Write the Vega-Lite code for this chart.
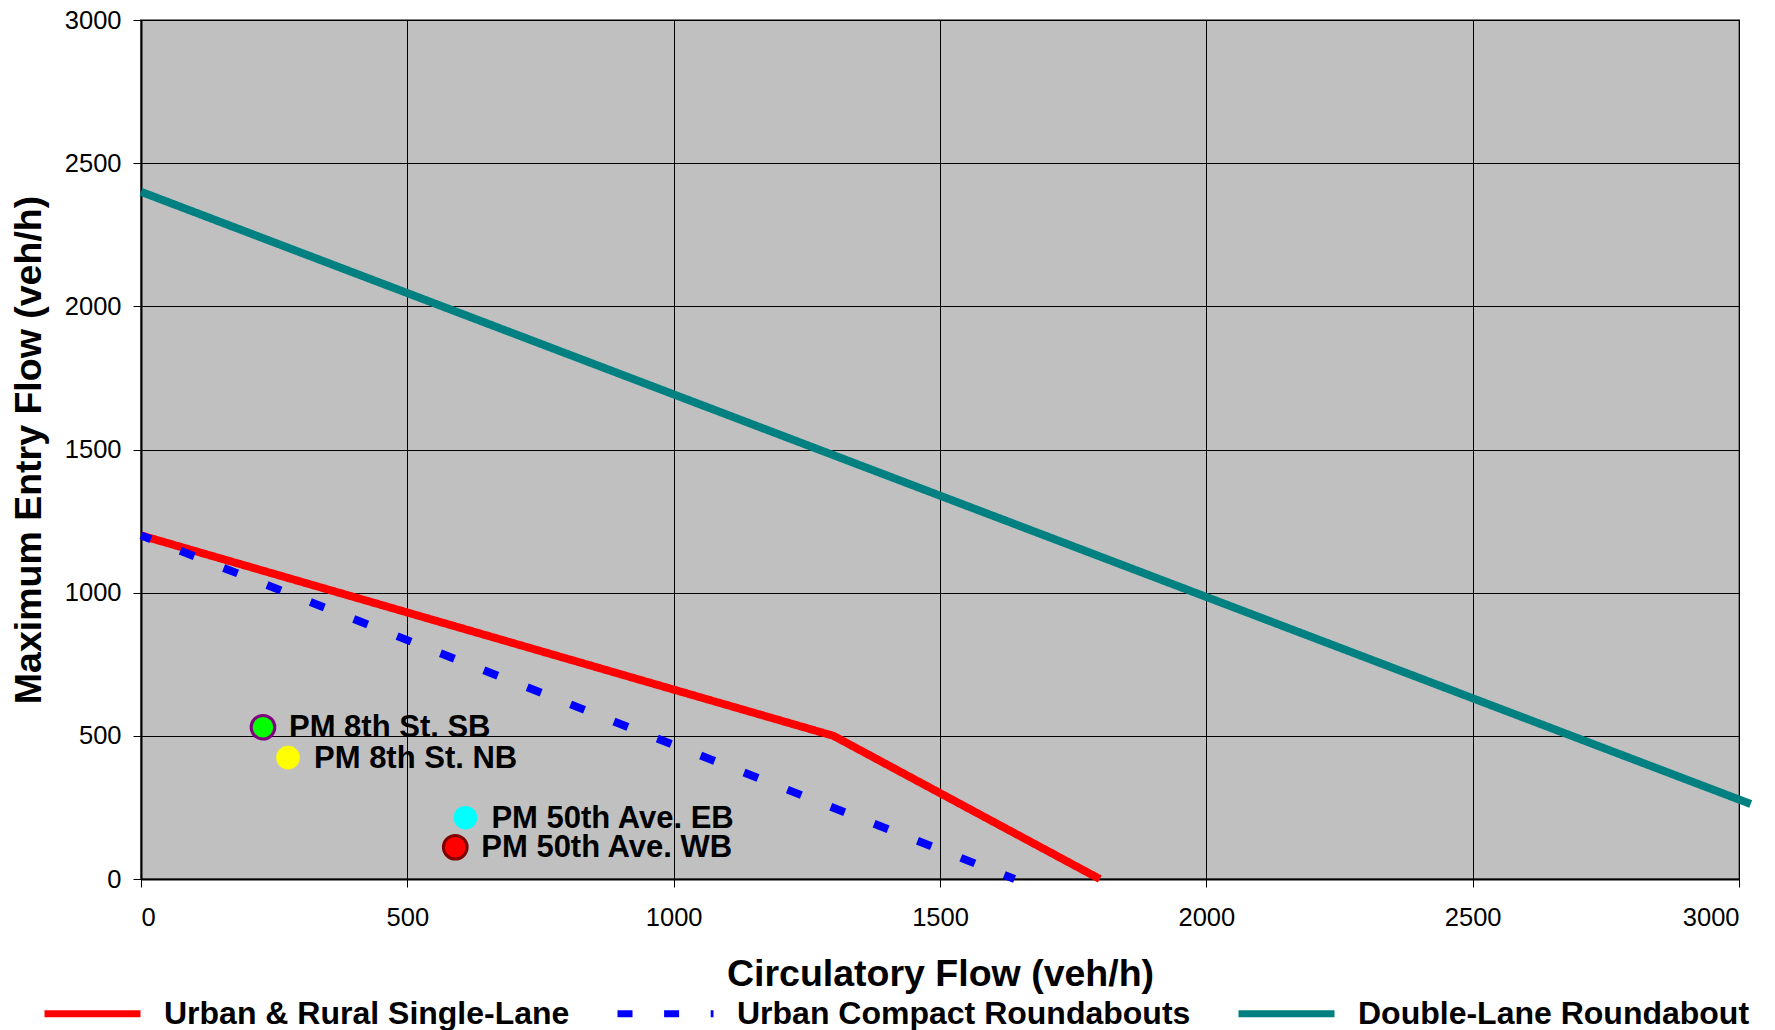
{
  "$schema": "https://vega.github.io/schema/vega-lite/v6.json",
  "width": 1598,
  "height": 859,
  "autosize": {"type": "none"},
  "padding": {"left": 141, "top": 20, "right": 36, "bottom": 151},
  "background": "white",
  "config": {
    "font": "Liberation Sans",
    "view": {"fill": "#C0C0C0", "stroke": "#808080", "strokeWidth": 2},
    "axis": {
      "grid": true,
      "gridColor": "#000000",
      "gridWidth": 1,
      "gridOpacity": 1,
      "domainColor": "#000000",
      "domainWidth": 2,
      "tickColor": "#000000",
      "tickSize": 8,
      "tickWidth": 1,
      "labelFont": "Liberation Sans",
      "labelFontSize": 25.5,
      "labelColor": "#000000",
      "titleFont": "Liberation Sans",
      "titleFontSize": 37.5,
      "titleFontWeight": "bold",
      "titleColor": "#000000"
    },
    "legend": {
      "labelFont": "Liberation Sans",
      "labelFontSize": 32,
      "labelFontWeight": "bold",
      "labelColor": "#000000",
      "labelLimit": 1000
    }
  },
  "datasets": {
    "curves": [
      {"series": "Urban & Rural Single-Lane", "x": 0, "y": 1200, "o": 1},
      {"series": "Urban & Rural Single-Lane", "x": 1300, "y": 500, "o": 2},
      {"series": "Urban & Rural Single-Lane", "x": 1800, "y": 0, "o": 3},
      {"series": "Urban Compact Roundabouts", "x": 0, "y": 1200, "o": 1},
      {"series": "Urban Compact Roundabouts", "x": 1640, "y": 0, "o": 2},
      {"series": "Double-Lane Roundabout", "x": 0, "y": 2400, "o": 1},
      {"series": "Double-Lane Roundabout", "x": 3022, "y": 262, "o": 2}
    ],
    "sites": [
      {"site": "PM 8th St. SB", "x": 229, "y": 530},
      {"site": "PM 8th St. NB", "x": 276, "y": 424},
      {"site": "PM 50th Ave. EB", "x": 609, "y": 214},
      {"site": "PM 50th Ave. WB", "x": 590, "y": 111}
    ]
  },
  "layer": [
    {
      "data": {"name": "curves"},
      "mark": {"type": "line", "strokeWidth": 8, "clip": false, "strokeCap": "butt", "strokeDashOffset": 4.4},
      "encoding": {
        "x": {
          "field": "x", "type": "quantitative",
          "scale": {"domain": [0, 3000], "nice": false},
          "axis": {"values": [0, 500, 1000, 1500, 2000, 2500, 3000], "title": "Circulatory Flow (veh/h)", "labelPadding": 18, "titlePadding": 25, "format": "d"}
        },
        "y": {
          "field": "y", "type": "quantitative",
          "scale": {"domain": [0, 3000], "nice": false},
          "axis": {"values": [0, 500, 1000, 1500, 2000, 2500, 3000], "title": "Maximum Entry Flow (veh/h)", "labelPadding": 12, "titlePadding": 16, "format": "d"}
        },
        "order": {"field": "o", "type": "quantitative"},
        "stroke": {
          "field": "series", "type": "nominal",
          "scale": {"domain": ["Urban & Rural Single-Lane", "Urban Compact Roundabouts", "Double-Lane Roundabout"], "range": ["#FF0000", "#0000FF", "#008080"]},
          "legend": {"title": null, "orient": "none", "legendX": -100, "legendY": 942, "direction": "horizontal", "columns": 3, "symbolType": "stroke", "symbolSize": 9216, "symbolStrokeWidth": 7, "labelOffset": 20, "columnPadding": 33}
        },
        "strokeDash": {
          "field": "series", "type": "nominal",
          "scale": {"domain": ["Urban & Rural Single-Lane", "Urban Compact Roundabouts", "Double-Lane Roundabout"], "range": [[1, 0], [15, 31.6], [1, 0]]},
          "legend": {"title": null, "orient": "none", "legendX": -100, "legendY": 942, "direction": "horizontal", "columns": 3, "symbolType": "stroke", "symbolSize": 9216, "symbolStrokeWidth": 7, "labelOffset": 20, "columnPadding": 33}
        }
      }
    },
    {
      "data": {"name": "sites"},
      "mark": {"type": "point", "filled": true, "size": 560, "strokeWidth": 3, "opacity": 1},
      "encoding": {
        "x": {"field": "x", "type": "quantitative"},
        "y": {"field": "y", "type": "quantitative"},
        "fill": {
          "field": "site", "type": "nominal",
          "scale": {"domain": ["PM 8th St. SB", "PM 8th St. NB", "PM 50th Ave. EB", "PM 50th Ave. WB"], "range": ["#00FF00", "#FFFF00", "#00FFFF", "#FF0000"]},
          "legend": null
        },
        "stroke": {
          "condition": [
            {"test": "datum.site === 'PM 8th St. SB'", "value": "#800080"},
            {"test": "datum.site === 'PM 50th Ave. WB'", "value": "#800000"}
          ],
          "value": null
        }
      }
    },
    {
      "data": {"name": "sites"},
      "mark": {"type": "text", "align": "left", "baseline": "middle", "dx": 26, "dy": 1, "fontSize": 31, "fontWeight": "bold", "font": "Liberation Sans", "color": "#000000"},
      "encoding": {
        "x": {"field": "x", "type": "quantitative"},
        "y": {"field": "y", "type": "quantitative"},
        "text": {"field": "site", "type": "nominal"}
      }
    }
  ]
}
